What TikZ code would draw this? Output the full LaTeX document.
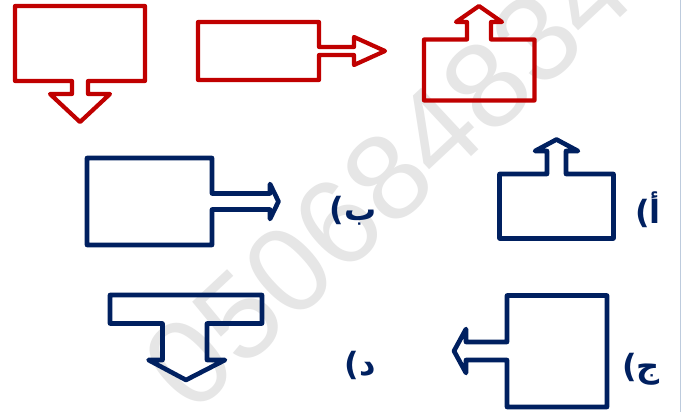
\documentclass[tikz,border=0pt]{standalone}
\usepackage{fontspec}
\newfontfamily\arabicfont[Script=Arabic]{DejaVu Sans}
\newfontfamily\wmfont{Liberation Sans}
\TeXXeTstate=1
\definecolor{redc}{HTML}{C00000}
\definecolor{navyc}{HTML}{002060}
\definecolor{wmgray}{HTML}{E6E6E6}
\definecolor{edgec}{HTML}{BDCBDD}
\begin{document}
\begin{tikzpicture}[x=1pt,y=-1pt,
  redshape/.style={draw=redc,line width=4.2pt,line join=round},
  blueshape/.style={draw=navyc,line width=4.6pt,line join=round},
  lbl/.style={text=navyc,font=\arabicfont\bfseries\fontsize{32}{38}\selectfont,inner sep=0pt,anchor=center},
  wm/.style={text=wmgray,font=\wmfont\fontsize{122}{122}\selectfont,inner sep=0pt,anchor=west,rotate=43}]
\useasboundingbox (0,0) rectangle (681,412);
\fill[white] (0,0) rectangle (681,412);
% watermark
\begin{scope}
\clip (0,0) rectangle (681,412);
\node[wm] (watermark) at (164,386) {050684834};
\end{scope}
\draw[edgec,line width=1pt] (680,0) -- (680,412);
% red shapes
\draw[redshape] (15,6) -- (145,6) -- (145,81) -- (88,81) -- (88,94) -- (110,94) -- (80,122) -- (50,94) -- (72,94) -- (72,81) -- (15,81) -- cycle;
\draw[redshape] (198,22) -- (319,22) -- (319,47) -- (354,47) -- (354,37) -- (385,51) -- (354,65) -- (354,55) -- (319,55) -- (319,80) -- (198,80) -- cycle;
\draw[redshape] (424,39.5) -- (467,39.5) -- (467,22) -- (456,22) -- (479,6) -- (502,22) -- (491,22) -- (491,39.5) -- (534.5,39.5) -- (534.5,100.5) -- (424,100.5) -- cycle;
% blue shapes
\draw[blueshape] (87,158) -- (212,158) -- (212,193.5) -- (270,193.5) -- (270,184) -- (278.5,201.5) -- (270,219) -- (270,209.5) -- (212,209.5) -- (212,245) -- (87,245) -- cycle;
\draw[blueshape] (499.5,174) -- (547,174) -- (547,151) -- (535,151) -- (556.5,139.5) -- (578,151) -- (566,151) -- (566,174) -- (613.5,174) -- (613.5,238.5) -- (499.5,238.5) -- cycle;
\draw[blueshape] (607,295.5) -- (607,407) -- (507,407) -- (507,360) -- (466,360) -- (466,373) -- (454,351) -- (466,329) -- (466,342) -- (507,342) -- (507,295.5) -- cycle;
\draw[blueshape] (110,295) -- (262,295) -- (262,323.5) -- (207,323.5) -- (207,360) -- (225,360) -- (186,380) -- (148.5,360) -- (162.5,360) -- (162.5,323.5) -- (110,323.5) -- cycle;
% labels
\node[lbl] (lblb) at (353,211) {\beginR ب)\endR};
\node[lbl] (lbla) at (648,210) {\beginR أ)\endR};
\node[lbl] (lblj) at (641,369) {\beginR ج)\endR};
\node[lbl] (lbld) at (360,365) {\beginR د)\endR};
\end{tikzpicture}
\end{document}
